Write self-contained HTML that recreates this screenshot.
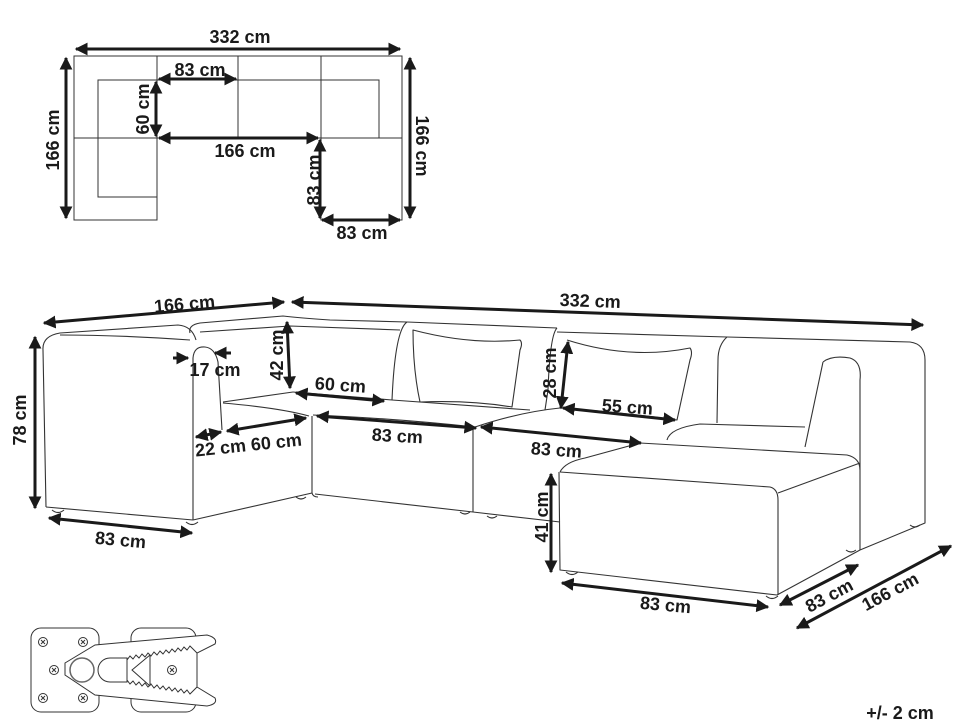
<!DOCTYPE html>
<html><head><meta charset="utf-8"><style>
html,body{margin:0;padding:0;background:#fff;}
svg{display:block;}
text{font-family:"Liberation Sans",sans-serif;font-weight:bold;font-size:18px;fill:#1a1a1a;}
</style></head><body>
<svg width="970" height="728" viewBox="0 0 970 728" xmlns="http://www.w3.org/2000/svg">
<defs>
<marker id="a" viewBox="0 0 10 10" refX="9" refY="5" markerWidth="4.3" markerHeight="4.3" orient="auto-start-reverse"><path d="M0,0 L10,5 L0,10 z" fill="#1a1a1a"/></marker>
</defs>

<!-- PLAN VIEW -->
<g fill="none" stroke="#333" stroke-width="1">
<path d="M74,56 H402 V220 H321 V138 H157 V220 H74 Z"/>
<line x1="157" y1="56" x2="157" y2="138"/>
<line x1="238" y1="56" x2="238" y2="138"/>
<line x1="321" y1="56" x2="321" y2="138"/>
<line x1="74" y1="138" x2="157" y2="138"/>
<line x1="321" y1="138" x2="402" y2="138"/>
<path d="M157,197 H98 V80 H379 V138"/>
</g>
<g stroke="#1a1a1a" stroke-width="3" marker-start="url(#a)" marker-end="url(#a)">
<line x1="76" y1="49" x2="400" y2="49"/>
<line x1="66" y1="58" x2="66" y2="218"/>
<line x1="410" y1="58" x2="410" y2="218"/>
<line x1="159" y1="79" x2="236" y2="79"/>
<line x1="156" y1="82" x2="156" y2="136"/>
<line x1="159" y1="138" x2="318" y2="138"/>
<line x1="320" y1="140" x2="320" y2="218"/>
<line x1="322" y1="220" x2="400" y2="220"/>
</g>
<text x="240" y="43" text-anchor="middle">332 cm</text>
<text x="200" y="76" text-anchor="middle">83 cm</text>
<text x="245" y="157" text-anchor="middle">166 cm</text>
<text x="362" y="239" text-anchor="middle">83 cm</text>
<text transform="translate(59,140) rotate(-90)" text-anchor="middle">166 cm</text>
<text transform="translate(149,109) rotate(-90)" text-anchor="middle">60 cm</text>
<text transform="translate(320,180) rotate(-90)" text-anchor="middle">83 cm</text>
<text transform="translate(416,146) rotate(90)" text-anchor="middle">166 cm</text>

<!-- SOFA -->
<g fill="none" stroke="#333" stroke-width="1.1" stroke-linejoin="round">
<path d="M46,507 L43,350 Q42,336 60,333 L178,325 Q192,326 196,340"/>
<path d="M60,335 Q120,335 190,340"/>
<path d="M193,520 L193,358 Q194,346 205,347 Q215,348 218,362 L222,430"/>
<path d="M46,507 L193,520"/>
<path d="M193,520 L312,493 L312,416"/>
<path d="M223,402 L293,392"/>
<path d="M223,403 Q280,408 309,416"/>
<path d="M190,333 Q188,325 200,323 L283,316 Q300,318 330,320 L407,322"/>
<path d="M200,332 L290,326 L400,330"/>
<path d="M293,392 L392,400"/>
<path d="M313,415 Q390,418 475,427"/>
<path d="M315,494 L473,512 L473,427"/>
<path d="M312,493 Q313,497 318,497"/>
<path d="M407,322 Q395,330 392,400"/>
<path d="M407,322 L557,328"/>
<path d="M413,330 Q470,345 520,340 Q523,343 520,350 L512,407 Q470,400 420,402 Q413,370 413,330 Z"/>
<path d="M392,400 L530,410"/>
<path d="M557,328 Q550,335 548,390 L545,410"/>
<path d="M557,332 L727,337"/>
<path d="M567,340 Q630,360 690,348 Q693,352 690,360 L677,420 Q620,412 560,408"/>
<path d="M475,427 Q520,412 560,408"/>
<path d="M473,512 L560,522"/>
<path d="M727,337 Q718,345 718,360 L717,423"/>
<path d="M727,337 L910,342 Q925,344 925,360 L925,523 L860,550"/>
<path d="M823,362 Q832,355 850,358 Q862,362 860,380 L860,550"/>
<path d="M823,362 Q815,400 805,447"/>
<path d="M667,440 Q670,428 700,424 L805,427"/>
<path d="M560,472 Q565,462 585,458 L640,443 L847,455 Q860,458 860,470"/>
<path d="M560,472 L770,487 Q778,489 778,500 L778,595"/>
<path d="M778,493 L860,463"/>
<path d="M559,472 L560,570 L777,595 L860,550"/>
<path d="M52,510 q6,5 12,0"/>
<path d="M186,522 q6,5 12,0"/>
<path d="M296,497 q5,4 10,0"/>
<path d="M460,512 q5,4 10,0"/>
<path d="M487,516 q5,4 10,0"/>
<path d="M566,572 q6,5 12,0"/>
<path d="M766,596 q6,5 12,0"/>
<path d="M910,525 q5,4 10,0"/>
<path d="M846,550 q5,4 10,0"/>
</g>

<g stroke="#1a1a1a" stroke-width="3" marker-start="url(#a)" marker-end="url(#a)">
<line x1="44" y1="323" x2="284" y2="302"/>
<line x1="292" y1="302" x2="923" y2="325"/>
<line x1="35" y1="337" x2="35" y2="508"/>
<line x1="49" y1="518" x2="192" y2="533"/>
<line x1="287" y1="322" x2="290" y2="388"/>
<line x1="296" y1="393" x2="384" y2="401"/>
<line x1="196" y1="437" x2="221" y2="432"/>
<line x1="227" y1="431" x2="306" y2="418"/>
<line x1="317" y1="416" x2="476" y2="428"/>
<line x1="568" y1="342" x2="561" y2="408"/>
<line x1="563" y1="408" x2="675" y2="420"/>
<line x1="481" y1="427" x2="641" y2="443"/>
<line x1="551" y1="474" x2="551" y2="572"/>
<line x1="562" y1="583" x2="768" y2="607"/>
<line x1="780" y1="605" x2="858" y2="565"/>
<line x1="797" y1="628" x2="951" y2="546"/>
</g>
<g stroke="#1a1a1a" stroke-width="3" marker-end="url(#a)">
<line x1="173" y1="358" x2="188" y2="358"/>
<line x1="231" y1="353" x2="215" y2="353"/>
</g>
<text transform="translate(185,310) rotate(-5)" text-anchor="middle">166 cm</text>
<text transform="translate(590,307) rotate(2)" text-anchor="middle">332 cm</text>
<text transform="translate(26,420) rotate(-90)" text-anchor="middle">78 cm</text>
<text transform="translate(120,546) rotate(5)" text-anchor="middle">83 cm</text>
<text x="215" y="376" text-anchor="middle">17 cm</text>
<text transform="translate(283,355) rotate(-90)" text-anchor="middle">42 cm</text>
<text transform="translate(340,391) rotate(4)" text-anchor="middle">60 cm</text>
<text transform="translate(249,451) rotate(-6)" text-anchor="middle">22 cm 60 cm</text>
<text transform="translate(397,442) rotate(3)" text-anchor="middle">83 cm</text>
<text transform="translate(556,373) rotate(-90)" text-anchor="middle">28 cm</text>
<text transform="translate(627,413) rotate(4)" text-anchor="middle">55 cm</text>
<text transform="translate(556,456) rotate(4)" text-anchor="middle">83 cm</text>
<text transform="translate(548,517) rotate(-90)" text-anchor="middle">41 cm</text>
<text transform="translate(665,611) rotate(5)" text-anchor="middle">83 cm</text>
<text transform="translate(832,601) rotate(-28)" text-anchor="middle">83 cm</text>
<text transform="translate(893,597) rotate(-28)" text-anchor="middle">166 cm</text>
<text x="900" y="719" text-anchor="middle">+/- 2 cm</text>

<!-- connector icon -->
<g fill="#fff" stroke="#333" stroke-width="1">
<rect x="31" y="628" width="68" height="84" rx="10"/>
<rect x="131" y="628" width="65" height="84" rx="10"/>
<path d="M65,663 L95,645 L207,635 Q218,638 215,644 L197,653 L197,687 L215,698 Q218,704 207,706 L95,695 L65,675 Z"/>
<circle cx="82" cy="670" r="12" stroke="#666" stroke-width="1.5"/>
<path d="M110,658 H127 V682 H110 A12,12 0 0 1 110,658 Z"/>
<path d="M127,660 L130,656 L133,659 L136,655 L139,658 L142,654 L145,657 L148,653 L151,656 L154,652 L157,655 L160,651 L163,654 L166,650 L169,653 L172,649 L175,652 L178,648 L181,651 L184,647 L187,650 L190,646 L193,649 L197,653"/>
<path d="M127,680 L130,684 L133,681 L136,685 L139,682 L142,686 L145,683 L148,687 L151,684 L154,688 L157,685 L160,689 L163,686 L166,690 L169,687 L172,691 L175,688 L178,692 L181,689 L184,693 L187,690 L190,694 L193,691 L197,687"/>
<path d="M150,655 L132,670 L150,686 M150,655 V686"/>
</g>
<g fill="none" stroke="#333" stroke-width="1">
<circle cx="43" cy="642" r="4.5"/><circle cx="83" cy="642" r="4.5"/>
<circle cx="54" cy="670" r="4.5"/><circle cx="43" cy="698" r="4.5"/>
<circle cx="83" cy="698" r="4.5"/><circle cx="172" cy="670" r="4.5"/>
<path d="M41,640l4,4m0-4l-4,4M81,640l4,4m0-4l-4,4M52,668l4,4m0-4l-4,4M41,696l4,4m0-4l-4,4M81,696l4,4m0-4l-4,4M170,668l4,4m0-4l-4,4"/>
</g>
</svg>
</body></html>
